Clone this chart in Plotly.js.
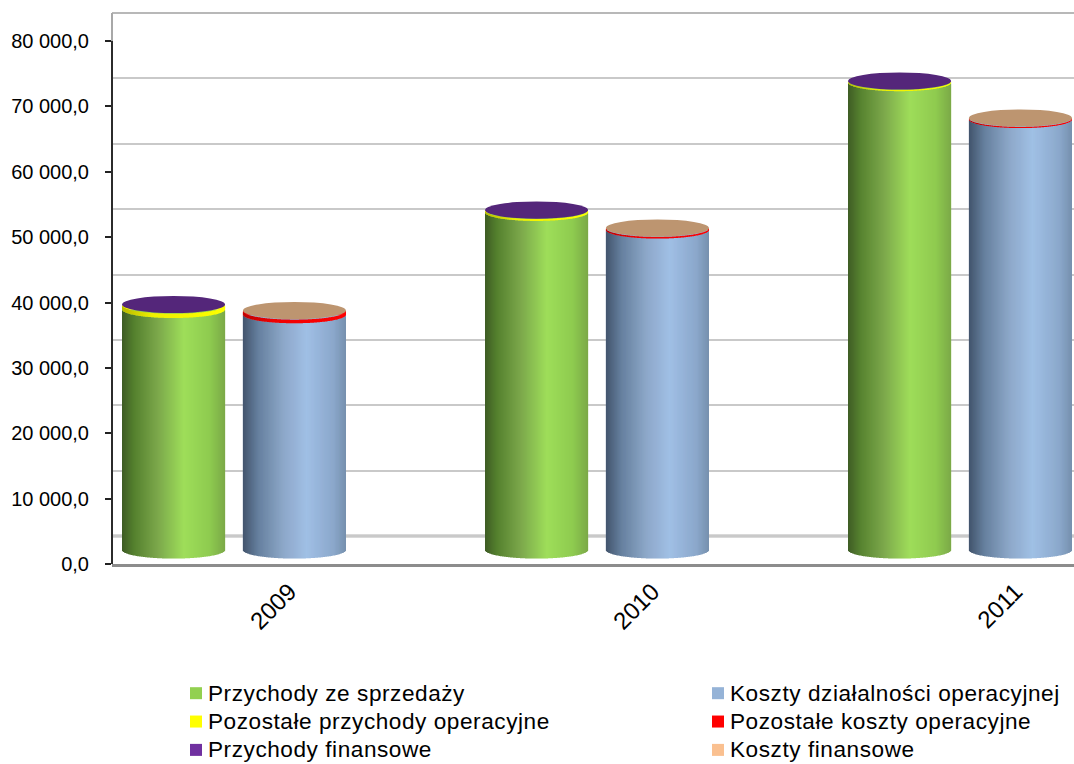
<!DOCTYPE html>
<html>
<head>
<meta charset="utf-8">
<script src="https://cdn.plot.ly/plotly-3.0.1.min.js"></script>
<style>
html,body{margin:0;padding:0;background:#fff;overflow:hidden;height:764px}
.legendtext,.legend2text{font-size:22.6px !important;letter-spacing:0.55px}
</style>
</head>
<body>
<div id="chart" style="width:1074px;height:790px"></div>
<script>
// ---- data ----
const years = [2009, 2010, 2011];
const sales      = [36800, 51650, 71500];
const otherIncome = [650, 280, 180];
const finIncome  = [100, 70, 60];
const opCosts    = [36000, 48950, 65850];
const otherCosts = [550, 250, 180];
const finCosts   = [80, 50, 50];
const tickVals = [0, 10000, 20000, 30000, 40000, 50000, 60000, 70000, 80000];
const tickText = ['0,0', '10 000,0', '20 000,0', '30 000,0', '40 000,0', '50 000,0', '60 000,0', '70 000,0', '80 000,0'];

// ---- styling ----
const FONT = 'Liberation Sans, Arial, sans-serif';
const PX_X = 1 / 363;            // x units per pixel
const PX_Y = 10000 / 65.375;     // y units per pixel
const CYL_W = 103 * PX_X;
const RY = 8.6 * PX_Y;           // ellipse half height of a cylinder
const SLICES = 103;
const GREEN = [[0,'#3d5a24'],[0.12,'#55812f'],[0.35,'#7ca84c'],[0.6,'#9fde5a'],[0.85,'#8fcb50'],[1,'#7ba948']];
const BLUE  = [[0,'#42546c'],[0.15,'#66809e'],[0.4,'#8ea9ca'],[0.62,'#a0c0e5'],[0.88,'#8ba8cb'],[1,'#7690ae']];
const YELLOW = [[0,'#b9b900'],[0.3,'#f0f000'],[1,'#ffff00']];
const RED = [[0,'#c00000'],[0.3,'#f00000'],[1,'#ff0000']];

function hex(c){return [1,3,5].map(i=>parseInt(c.substr(i,2),16));}
function ramp(st,t){
  for(let i=1;i<st.length;i++){
    if(t<=st[i][0]){
      const f=(t-st[i-1][0])/(st[i][0]-st[i-1][0]);
      const a=hex(st[i-1][1]), b=hex(st[i][1]);
      return 'rgb('+a.map((v,k)=>Math.round(v+(b[k]-v)*f)).join(',')+')';
    }
  }
  return st[st.length-1][1];
}

const groups = [
  {offset:-0.307, series:[
    {name:'Przychody ze sprzedaży', y:sales, color:'#92d050', stops:GREEN},
    {name:'Pozostałe przychody operacyjne', y:otherIncome, color:'#ffff00', stops:YELLOW},
    {name:'Przychody finansowe', y:finIncome, color:'#7030a0', stops:null, cap:'#54267a'}
  ], legend:'legend'},
  {offset:0.026, series:[
    {name:'Koszty działalności operacyjnej', y:opCosts, color:'#95b3d7', stops:BLUE},
    {name:'Pozostałe koszty operacyjne', y:otherCosts, color:'#ff0000', stops:RED},
    {name:'Koszty finansowe', y:finCosts, color:'#fac090', stops:null, cap:'#bd9570'}
  ], legend:'legend2'}
];

const flat = [], slices = [], caps = [];
groups.forEach(g=>{
  const cum = years.map(()=>0);
  g.series.forEach(s=>{
    const bases = cum.slice();
    flat.push({type:'bar', name:s.name, x:years, y:s.y, base:bases, width:CYL_W, offset:g.offset,
      marker:{color:s.color, line:{width:0}}, legend:g.legend, hoverinfo:'name+y'});
    if(s.stops){
      const xs=[],hs=[],bs=[],cs=[];
      years.forEach((yr,k)=>{
        for(let i=0;i<SLICES;i++){
          const t=(i+0.5)/SLICES, u=2*t-1;
          xs.push(yr+g.offset+t*CYL_W);
          hs.push(s.y[k]);
          bs.push(bases[k]-RY*Math.sqrt(1-u*u));
          cs.push(ramp(s.stops,t));
        }
      });
      slices.push({type:'bar', x:xs, y:hs, base:bs, width:PX_X*1.1, showlegend:false, hoverinfo:'skip',
        marker:{color:cs, line:{width:0}}});
    }
    years.forEach((yr,k)=>{cum[k]+=s.y[k];});
    if(s.cap){
      years.forEach((yr,k)=>{
        caps.push({type:'circle', xref:'x', yref:'y', layer:'above',
          x0:yr+g.offset, x1:yr+g.offset+CYL_W, y0:cum[k]-RY, y1:cum[k]+RY,
          fillcolor:s.cap, line:{width:0}});
      });
    }
  });
});

// helper traces that carry the tick-label and back-wall axes
const axisTraces = [
  {type:'scatter', x:[years[0]], y:[0], yaxis:'y2', mode:'none', showlegend:false, hoverinfo:'skip'},
  {type:'scatter', x:[years[0]], y:[0], yaxis:'y3', mode:'none', showlegend:false, hoverinfo:'skip'}
];

const wall = [
  {type:'line', xref:'paper', x0:0, x1:1, yref:'y3', y0:0, y1:0, layer:'below', line:{color:'#b4b4b4', width:3}},
  {type:'line', xref:'paper', x0:0, x1:1, yref:'y3', y0:80000, y1:80000, layer:'below', line:{color:'#b8b8b8', width:2}},
  {type:'line', xref:'paper', x0:0, x1:0, yref:'y2', y0:0, y1:80000, layer:'above', line:{color:'#2b2b2b', width:2}},
  {type:'line', xref:'paper', x0:0, x1:0, yref:'y2', y0:80000, y1:84300, layer:'above', line:{color:'#a8a8a8', width:2}}
];

const layout = {
  width:1074, height:790, autosize:false,
  margin:{l:112, r:0, t:12, b:226, pad:0},
  paper_bgcolor:'#fff', plot_bgcolor:'#fff',
  barmode:'overlay', showlegend:true,
  font:{family:FONT, size:20, color:'#000'},
  xaxis:{range:[2008.6653,2011.3154], tickmode:'array', tickvals:years, ticktext:years.map(String),
    tickangle:-45, ticks:'', showgrid:false, zeroline:false,
    showline:true, linecolor:'#8c8c8c', linewidth:3, ticklabelshift:56, ticklabelstandoff:1,
    tickfont:{family:FONT, size:24, color:'#000'}},
  yaxis:{range:[-2141,82294], showgrid:false, zeroline:false, showticklabels:false, ticks:''},
  yaxis2:{range:[0,84436], overlaying:'y', side:'left', tickmode:'array', tickvals:tickVals, ticktext:tickText,
    ticks:'outside', ticklen:6, tickwidth:2, tickcolor:'#222', showgrid:false, zeroline:false, showline:false,
    ticklabelstandoff:12, tickfont:{family:FONT, size:20, color:'#000'}},
  yaxis3:{range:[-4283,80153], overlaying:'y', side:'left', tickmode:'array', tickvals:tickVals,
    showticklabels:false, ticks:'', showgrid:true, gridcolor:'#c9c9c9', gridwidth:2, zeroline:false, showline:false},
  legend:{x:(168-112)/962, y:-0.1993, xanchor:'left', yanchor:'top', bgcolor:'rgba(0,0,0,0)', tracegroupgap:0,
    font:{family:FONT, size:19.5, color:'#000'}},
  legend2:{x:(690-112)/962, y:-0.1993, xanchor:'left', yanchor:'top', bgcolor:'rgba(0,0,0,0)', tracegroupgap:0,
    font:{family:FONT, size:19.5, color:'#000'}},
  shapes: wall.concat(caps)
};

Plotly.newPlot('chart', flat.concat(slices, axisTraces), layout, {displayModeBar:false, staticPlot:true}).then(()=>{
  document.querySelectorAll('.legendsymbols').forEach(el=>{
    el.setAttribute('transform','translate(8,0)');
  });
});
</script>
</body>
</html>
